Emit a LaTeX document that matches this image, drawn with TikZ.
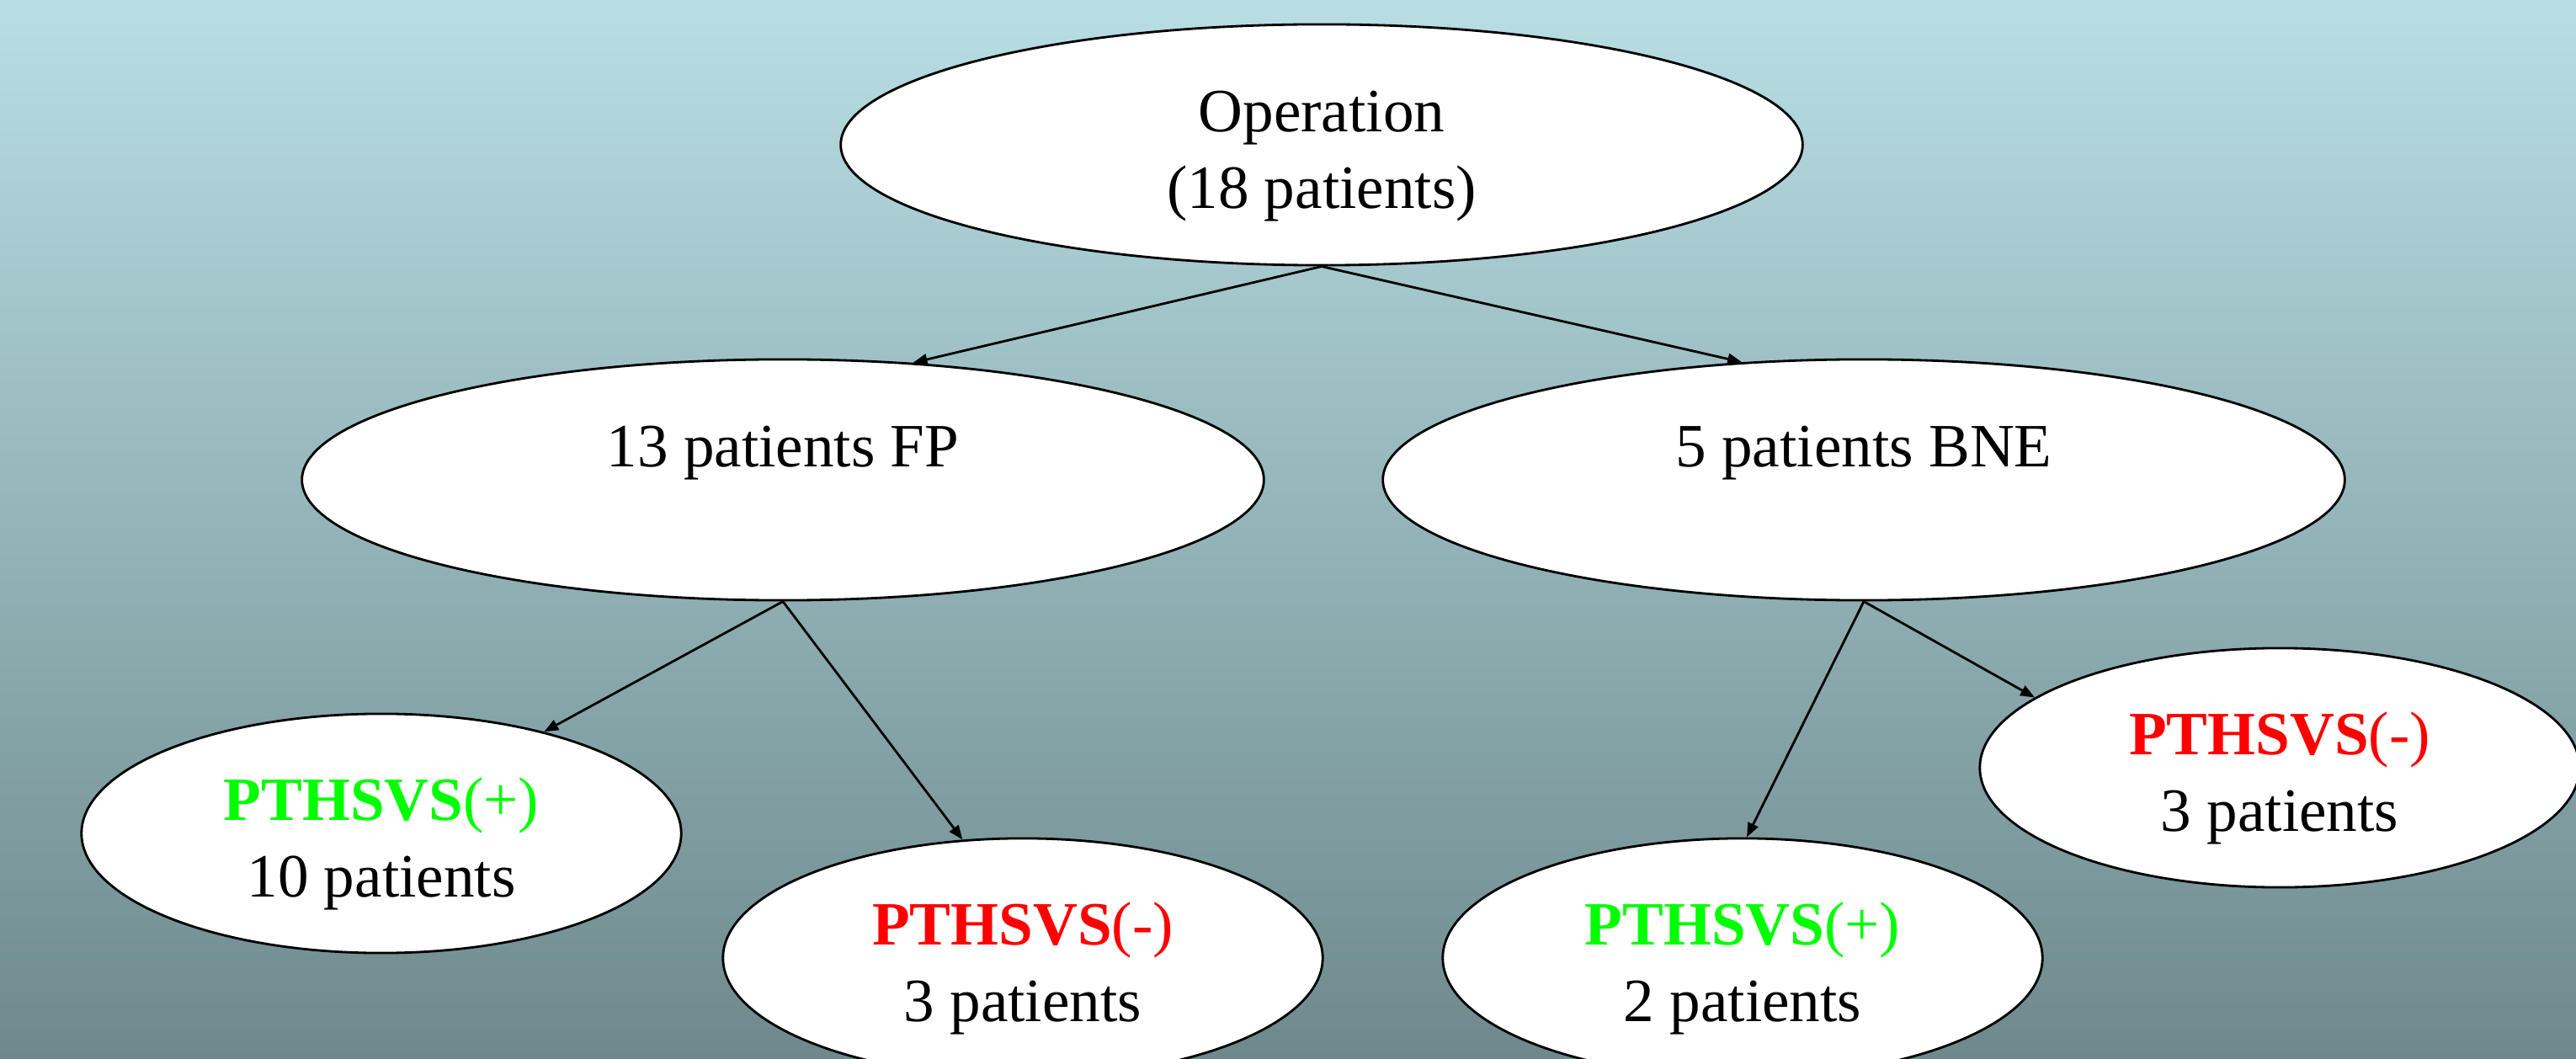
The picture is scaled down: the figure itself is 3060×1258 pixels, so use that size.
\documentclass[tikz,border=0pt]{standalone}
\usepackage{fontspec}
\setmainfont{Liberation Serif}
\usetikzlibrary{shapes.geometric,arrows.meta}
\definecolor{bgtop}{RGB}{184,222,228}
\definecolor{bgbot}{RGB}{110,137,140}
\definecolor{posgreen}{RGB}{0,255,0}
\definecolor{negred}{RGB}{255,0,0}
\begin{document}
\begin{tikzpicture}[x=0.01cm,y=-0.01cm,
    oval/.style={ellipse,draw=black,line width=0.8pt,fill=white,inner sep=0pt,
      text height=0.6cm,text depth=0.9cm,font=\fontsize{20.8}{25.6}\selectfont},
    bigoval/.style={oval,minimum width=11.42cm,minimum height=2.86cm},
    smalloval/.style={oval,minimum width=7.12cm,minimum height=2.84cm},
    link/.style={-{Triangle[length=0.17cm,width=0.13cm]},line width=0.8pt}]

	\useasboundingbox (0,0) rectangle (3060,1258);
	\shade[top color=bgtop,bottom color=bgbot] (0,0) rectangle (3060,1258);

	% first level
	\node[bigoval] (op) at (1570,172) {\begin{tabular}[t]{@{}c@{}}Operation\\(18 patients)\end{tabular}};

	% second level
	\node[bigoval] (fp) at (930,570) {13 patients FP};
	\node[bigoval] (bne) at (2214,570) {5 patients BNE};

	% third level
	\node[smalloval] (fppos) at (453,990) {\begin{tabular}[t]{@{}c@{}}{\color{posgreen}\textbf{PTHSVS}(+)}\\10 patients\end{tabular}};
	\node[smalloval] (fpneg) at (1215,1138) {\begin{tabular}[t]{@{}c@{}}{\color{negred}\textbf{PTHSVS}(-)}\\3 patients\end{tabular}};
	\node[smalloval] (bnepos) at (2070,1138) {\begin{tabular}[t]{@{}c@{}}{\color{posgreen}\textbf{PTHSVS}(+)}\\2 patients\end{tabular}};
	\node[smalloval] (bneneg) at (2708,912) {\begin{tabular}[t]{@{}c@{}}{\color{negred}\textbf{PTHSVS}(-)}\\3 patients\end{tabular}};

	% arrows
	\draw[link] (op.south) -- (fp.42);
	\draw[link] (op.south) -- (bne.136);
	\draw[link] (fp.south) -- (fppos.32);
	\draw[link] (fp.south) -- (fpneg.117);
	\draw[link] (bne.south) -- (bnepos.88);
	\draw[link] (bne.south) -- (bneneg.164);
\end{tikzpicture}
\end{document}
